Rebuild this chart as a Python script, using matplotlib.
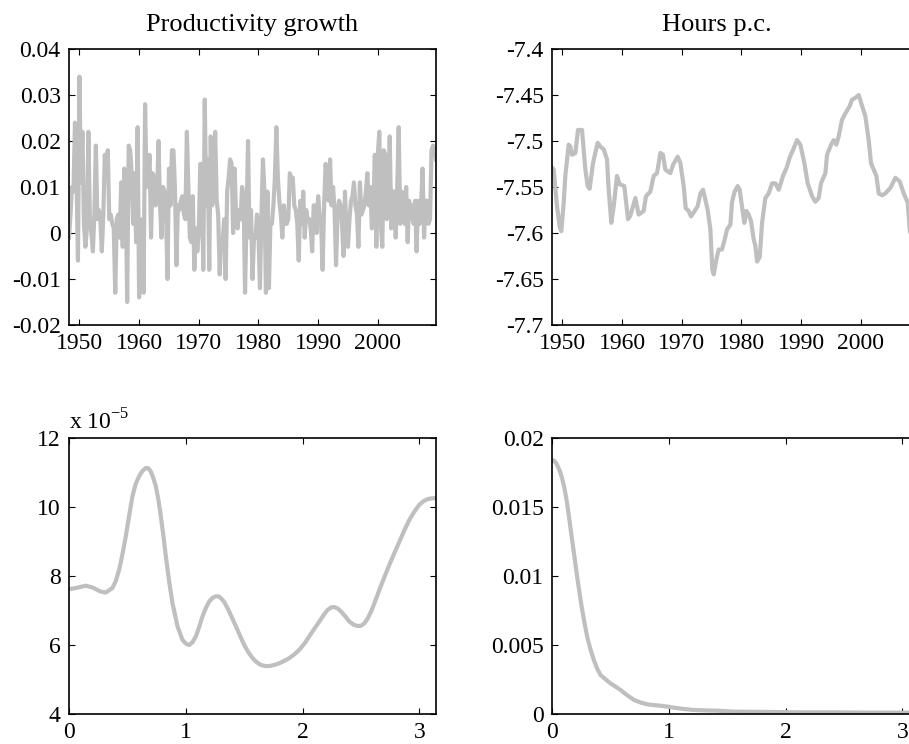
import matplotlib
matplotlib.use("Agg")
import matplotlib.pyplot as plt
from matplotlib.ticker import FuncFormatter, MultipleLocator
import numpy as np

plt.rcParams['font.family'] = ['Liberation Serif', 'DejaVu Serif']
plt.rcParams['mathtext.fontset'] = 'custom'
plt.rcParams['mathtext.rm'] = 'Liberation Serif'
plt.rcParams['axes.unicode_minus'] = False

# quarterly productivity growth, 1948Q2 .. 2009Q4
prod_growth = [
    -0.001, 0.004, 0.010, 0.009, 0.024, 0.013, -0.006, 0.034, 0.011, 0.022,
    0.002, -0.003, 0.001, 0.022, 0.003, 0.000, -0.004, 0.004, 0.019, 0.003,
    0.005, 0.003, -0.004, 0.004, 0.017, 0.012, 0.018, 0.003, 0.004, 0.002,
    0.001, -0.013, 0.003, 0.004, -0.001, 0.011, -0.003, 0.014, 0.011, -0.015,
    0.019, 0.018, 0.013, 0.002, 0.013, -0.002, 0.023, -0.014, 0.003, 0.002,
    -0.013, 0.028, 0.010, 0.012, 0.017, -0.001, 0.013, 0.012, 0.006, 0.008,
    0.020, 0.006, -0.001, 0.010, 0.009, 0.005, -0.010, 0.014, 0.006, 0.018,
    0.018, 0.010, -0.007, 0.006, 0.005, 0.007, 0.008, 0.004, 0.003, 0.022,
    0.010, -0.001, -0.002, 0.008, -0.008, 0.001, -0.004, 0.000, 0.015, 0.015,
    -0.008, 0.029, 0.006, 0.016, -0.008, 0.021, 0.006, 0.012, 0.022, 0.007,
    0.004, -0.009, -0.002, -0.002, 0.003, -0.010, 0.009, 0.012, 0.016, 0.015,
    0.000, 0.014, 0.004, 0.001, 0.005, 0.003, 0.010, 0.008, -0.013, 0.004,
    0.020, -0.001, 0.005, -0.010, -0.001, -0.001, 0.004, 0.000, -0.012, 0.004,
    0.016, 0.009, -0.013, 0.009, -0.012, 0.002, 0.002, 0.006, 0.012, 0.023,
    0.012, 0.007, 0.004, -0.001, 0.006, 0.002, 0.002, 0.003, 0.013, 0.012,
    0.012, 0.006, 0.005, 0.002, -0.006, 0.007, 0.002, 0.009, -0.001, 0.005,
    0.003, 0.003, 0.001, -0.004, 0.006, 0.006, 0.000, 0.008, 0.004, 0.002,
    -0.008, 0.006, 0.015, 0.012, 0.007, 0.016, 0.006, 0.010, 0.005, -0.007,
    0.004, 0.007, 0.006, 0.002, -0.005, 0.009, 0.000, -0.003, 0.003, 0.007,
    0.008, 0.011, 0.006, 0.004, -0.003, 0.011, 0.004, 0.005, 0.006, 0.009,
    0.013, 0.006, 0.010, 0.001, 0.005, 0.017, -0.003, 0.017, 0.022, 0.002,
    -0.003, 0.018, 0.017, 0.003, 0.008, 0.021, 0.001, 0.009, 0.009, -0.001,
    0.010, 0.023, 0.002, 0.009, 0.003, 0.002, 0.010, -0.002, 0.007, 0.003,
    0.006, 0.002, 0.007, -0.004, 0.007, 0.002, 0.006, 0.014, -0.001, 0.007,
    0.007, 0.002, 0.003, 0.018, 0.019, 0.018, 0.016,
]
prod_years = 1948.25 + 0.25 * np.arange(len(prod_growth))

# log hours per capita
hours_years = [
    1948.25, 1948.53, 1949.09, 1949.53, 1949.81, 1950.21, 1950.48, 1951.04, 1951.32, 1951.60,
    1952.16, 1952.61, 1953.28, 1953.84, 1954.23, 1954.56, 1955.12, 1955.90, 1956.35, 1956.91,
    1957.47, 1957.75, 1958.19, 1958.59, 1959.14, 1959.59, 1960.37, 1960.99, 1961.38, 1962.22,
    1962.77, 1963.61, 1964.00, 1964.73, 1965.29, 1965.85, 1966.41, 1966.85, 1967.24, 1968.08,
    1968.53, 1969.31, 1969.76, 1970.32, 1970.65, 1971.15, 1971.55, 1972.27, 1972.66, 1973.11,
    1973.56, 1973.95, 1974.34, 1974.79, 1975.12, 1975.35, 1975.79, 1976.18, 1976.74, 1977.30,
    1977.58, 1978.14, 1978.42, 1978.86, 1979.37, 1979.70, 1980.09, 1980.48, 1980.82, 1981.21,
    1981.60, 1982.05, 1982.33, 1982.61, 1983.06, 1983.45, 1984.00, 1984.56, 1985.12, 1985.68,
    1986.24, 1986.96, 1987.63, 1988.08, 1988.75, 1989.31, 1989.87, 1990.54, 1991.10, 1991.83,
    1992.38, 1992.94, 1993.33, 1994.06, 1994.34, 1995.01, 1995.46, 1995.90, 1996.29, 1996.85,
    1997.41, 1998.14, 1998.53, 1999.09, 1999.65, 2000.21, 2000.76, 2001.32, 2001.71, 2002.16,
    2002.61, 2003.00, 2003.56, 2004.11, 2004.95, 2005.79, 2006.52, 2007.19, 2007.86, 2008.19,
    2008.75, 2009.25, 2009.75,
]
hours_pc = [
    -7.529, -7.531, -7.571, -7.593, -7.598, -7.567, -7.538, -7.504, -7.506, -7.515,
    -7.513, -7.488, -7.488, -7.531, -7.549, -7.552, -7.524, -7.502, -7.506, -7.509,
    -7.520, -7.553, -7.589, -7.571, -7.538, -7.547, -7.549, -7.585, -7.581, -7.562,
    -7.580, -7.576, -7.560, -7.555, -7.538, -7.535, -7.513, -7.515, -7.531, -7.535,
    -7.526, -7.517, -7.524, -7.549, -7.573, -7.576, -7.582, -7.575, -7.571, -7.557,
    -7.553, -7.564, -7.575, -7.596, -7.640, -7.645, -7.629, -7.618, -7.618, -7.604,
    -7.596, -7.591, -7.566, -7.555, -7.549, -7.553, -7.571, -7.589, -7.576, -7.580,
    -7.587, -7.607, -7.614, -7.631, -7.626, -7.589, -7.562, -7.557, -7.546, -7.546,
    -7.553, -7.538, -7.528, -7.518, -7.508, -7.499, -7.504, -7.524, -7.546, -7.560,
    -7.566, -7.562, -7.546, -7.535, -7.515, -7.504, -7.499, -7.504, -7.495, -7.477,
    -7.470, -7.462, -7.455, -7.453, -7.450, -7.462, -7.473, -7.499, -7.524, -7.531,
    -7.538, -7.557, -7.559, -7.557, -7.551, -7.540, -7.544, -7.557, -7.567, -7.596,
    -7.620, -7.650, -7.655,
]

# spectral density of productivity growth (units of 1e-5)
freq_prod = [0.0, 0.057, 0.143, 0.2, 0.27, 0.314, 0.371, 0.4, 0.429, 0.457,
             0.486, 0.515, 0.543, 0.571, 0.6, 0.63, 0.657, 0.68, 0.7, 0.72,
             0.743, 0.765, 0.786, 0.808, 0.829, 0.857, 0.886, 0.929, 0.971, 1.0,
             1.029, 1.057, 1.086, 1.114, 1.143, 1.171, 1.2, 1.23, 1.257, 1.28,
             1.3, 1.33, 1.357, 1.39, 1.429, 1.465, 1.5, 1.535, 1.571, 1.607,
             1.643, 1.68, 1.714, 1.757, 1.8, 1.843, 1.886, 1.93, 1.971, 2.015,
             2.057, 2.1, 2.143, 2.18, 2.214, 2.245, 2.271, 2.3, 2.329, 2.365,
             2.4, 2.435, 2.471, 2.5, 2.529, 2.557, 2.586, 2.62, 2.657, 2.7,
             2.743, 2.786, 2.829, 2.87, 2.914, 2.957, 3.0, 3.035, 3.071, 3.105,
             3.1416]
spec_prod = [7.62, 7.65, 7.72, 7.67, 7.55, 7.52, 7.65, 7.85, 8.18, 8.62,
             9.15, 9.75, 10.31, 10.67, 10.89, 11.05, 11.13, 11.12, 11.03, 10.86,
             10.6, 10.22, 9.73, 9.17, 8.57, 7.85, 7.21, 6.54, 6.15, 6.04,
             6.00, 6.08, 6.25, 6.52, 6.83, 7.07, 7.26, 7.37, 7.41, 7.41,
             7.36, 7.24, 7.07, 6.83, 6.54, 6.26, 6.00, 5.79, 5.62, 5.50,
             5.42, 5.39, 5.39, 5.42, 5.47, 5.54, 5.62, 5.73, 5.86, 6.04,
             6.25, 6.47, 6.68, 6.87, 7.02, 7.09, 7.10, 7.06, 6.97, 6.83,
             6.68, 6.59, 6.55, 6.56, 6.63, 6.77, 6.97, 7.26, 7.60, 7.97,
             8.33, 8.67, 9.00, 9.32, 9.63, 9.87, 10.07, 10.17, 10.23, 10.25,
             10.26]

# spectral density of hours
freq_hours = [0.0, 0.022, 0.043, 0.065, 0.086, 0.108, 0.129, 0.15, 0.172, 0.194,
              0.215, 0.237, 0.258, 0.28, 0.301, 0.33, 0.358, 0.386, 0.415, 0.46,
              0.501, 0.545, 0.587, 0.645, 0.702, 0.76, 0.817, 0.874, 0.931, 0.99,
              1.046, 1.13, 1.218, 1.32, 1.418, 1.562, 1.7, 1.848, 2.135, 2.421,
              2.708, 3.07, 3.1416]
spec_hours = [0.01843, 0.01833, 0.01807, 0.01765, 0.01710, 0.01630, 0.01528, 0.01400, 0.01262, 0.01128,
              0.00996, 0.00870, 0.00755, 0.00652, 0.00561, 0.00465, 0.00392, 0.00330, 0.00283, 0.00250,
              0.00222, 0.00198, 0.00174, 0.00135, 0.00102, 0.00083, 0.00070, 0.00064, 0.00060, 0.00053,
              0.00046, 0.00036, 0.00029, 0.00026, 0.00024, 0.00017, 0.00016, 0.00015, 0.00012, 0.00012,
              0.00010, 0.00010, 0.00010]

line_color = (0.75, 0.75, 0.75)
lw = 3
tick_fs = 17

fig = plt.figure(figsize=(9.09, 7.44), dpi=100)
W, H = 909.0, 744.0
aw, ah = 367 / W, 276 / H
ax1 = fig.add_axes([69 / W, 1 - 325 / H, aw, ah])
ax2 = fig.add_axes([552 / W, 1 - 325 / H, aw, ah])
ax3 = fig.add_axes([69 / W, 1 - 714 / H, aw, ah])
ax4 = fig.add_axes([552 / W, 1 - 714 / H, aw, ah])

fmt = FuncFormatter(lambda v, p: '%g' % round(v, 6))

def style(ax):
    ax.tick_params(direction='in', top=True, right=True, length=4, width=0.8,
                   labelsize=tick_fs, pad=6)
    for s in ax.spines.values():
        s.set_linewidth(1.2)
    ax.xaxis.set_major_formatter(fmt)
    ax.yaxis.set_major_formatter(fmt)

ax1.plot(prod_years, prod_growth, color=line_color, lw=lw)
ax1.set_xlim(1948.25, 2009.75)
ax1.set_ylim(-0.02, 0.04)
ax1.yaxis.set_major_locator(MultipleLocator(0.01))
ax1.xaxis.set_major_locator(MultipleLocator(10))
ax1.set_title('Productivity growth', fontsize=19, pad=13)
style(ax1)

ax2.plot(hours_years, hours_pc, color=line_color, lw=lw)
ax2.set_xlim(1948.25, 2009.75)
ax2.set_ylim(-7.7, -7.4)
ax2.yaxis.set_major_locator(MultipleLocator(0.05))
ax2.xaxis.set_major_locator(MultipleLocator(10))
ax2.set_title('Hours p.c.', fontsize=19, pad=13, x=0.45)
style(ax2)

ax3.plot(freq_prod, spec_prod, color=line_color, lw=lw)
ax3.set_xlim(0, np.pi)
ax3.set_ylim(4, 12)
ax3.yaxis.set_major_locator(MultipleLocator(2))
ax3.xaxis.set_major_locator(MultipleLocator(1))
ax3.text(0, 1.012, r'x 10$^{\mathrm{-5}}$', transform=ax3.transAxes,
         fontsize=tick_fs, ha='left', va='bottom')
style(ax3)

ax4.plot(freq_hours, spec_hours, color=line_color, lw=lw)
ax4.set_xlim(0, np.pi)
ax4.set_ylim(0, 0.02)
ax4.yaxis.set_major_locator(MultipleLocator(0.005))
ax4.xaxis.set_major_locator(MultipleLocator(1))
style(ax4)

fig.savefig('out.png', dpi=100)
